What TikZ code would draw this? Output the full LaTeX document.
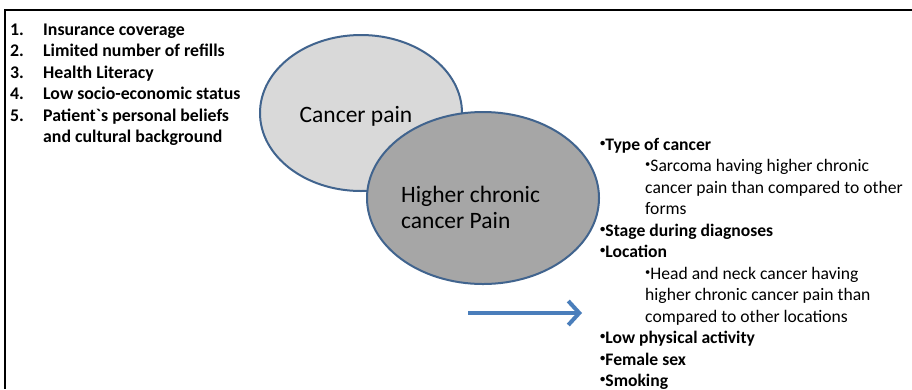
\documentclass[tikz,border=0pt]{standalone}
\usepackage{fontspec}
\setmainfont{Carlito}
\usetikzlibrary{arrows.meta}
\definecolor{edgeblue}{HTML}{41648E}
\definecolor{lightfill}{HTML}{D9D9D9}
\definecolor{darkfill}{HTML}{A6A6A6}
\definecolor{arrowblue}{HTML}{4A7EBB}
\newcommand\mybul{\raisebox{0.2em}{\fontsize{10.5}{10}\selectfont\textbullet}}
\newcommand\rawgrave{{\addfontfeature{Ligatures=TeXOff}`}}
\begin{document}
\begin{tikzpicture}[x=1pt,y=-1pt,
  blob/.style={draw=edgeblue,line width=2pt},
  listtxt/.style={anchor=base west,inner sep=0pt,font=\fontsize{17.8}{21}\selectfont\bfseries},
  righttxt/.style={anchor=base west,inner sep=0pt,font=\fontsize{17.6}{21}\selectfont\bfseries},
  subtxt/.style={anchor=base west,inner sep=0pt,font=\fontsize{17.6}{21}\selectfont},
  bigtxt/.style={inner sep=0pt,font=\fontsize{23.5}{26}\selectfont,align=left}]
\useasboundingbox (0,0) rectangle (912,389);
\fill[white] (0,0) rectangle (912,389);
% frame
\draw[line width=2pt,black] (912,9.5) -- (4.5,9.5) -- (4.5,389);
% left list
\foreach \n/\t/\y in {1/Insurance coverage/35, 2/Limited number of refills/56.5, 3/Health Literacy/78, 4/Low socio-economic status/99.5}{
  \node[listtxt] (num\n) at (10,\y) {\n.};
  \node[listtxt] (item\n) at (43,\y) {\t};
}
\node[listtxt] (num5) at (10,121) {5.};
\node[listtxt] (item5) at (43,121) {Patient\rawgrave s personal beliefs};
\node[listtxt] (item5b) at (43,142.5) {and cultural background};
% ellipses
\draw[blob,fill=lightfill] (361,113) ellipse [x radius=101, y radius=78];
\node[bigtxt] (cp) at (356,116) {Cancer pain};
\draw[blob,fill=darkfill] (483,198) ellipse [x radius=116, y radius=86];
\node[bigtxt,anchor=west] (hcp) at (401,207) {Higher chronic\\cancer Pain};
% right list
\node[righttxt] (r1) at (600,150) {\mybul Type of cancer};
\node[subtxt] (r1a) at (645,171.5) {\mybul Sarcoma having higher chronic};
\node[subtxt] (r1b) at (645,193) {cancer pain than compared to other};
\node[subtxt] (r1c) at (645,214.5) {forms};
\node[righttxt] (r2) at (600,236) {\mybul Stage during diagnoses};
\node[righttxt] (r3) at (600,257.5) {\mybul Location};
\node[subtxt] (r3a) at (645,279) {\mybul Head and neck cancer having};
\node[subtxt] (r3b) at (645,300.5) {higher chronic cancer pain than};
\node[subtxt] (r3c) at (645,322) {compared to other locations};
\node[righttxt] (r4) at (600,343.5) {\mybul Low physical activity};
\node[righttxt] (r5) at (600,365) {\mybul Female sex};
\node[righttxt] (r6) at (600,386) {\mybul Smoking};
% arrow
\coordinate (as) at (468,313);
\coordinate (ae) at (582,313);
\draw[arrowblue,line width=4pt,-{Straight Barb[length=11pt,width=24pt,line width=4pt]}] (as) -- (ae);
\end{tikzpicture}
\end{document}
